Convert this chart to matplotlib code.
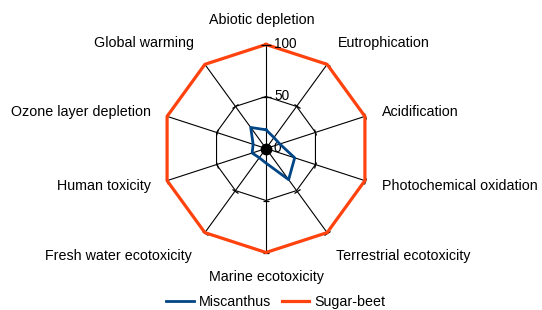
import numpy as np
import matplotlib
matplotlib.use("Agg")
import matplotlib.pyplot as plt
from matplotlib.markers import MarkerStyle
from matplotlib.transforms import Affine2D

categories = ["Abiotic depletion", "Eutrophication", "Acidification",
              "Photochemical oxidation", "Terrestrial ecotoxicity",
              "Marine ecotoxicity", "Fresh water ecotoxicity",
              "Human toxicity", "Ozone layer depletion", "Global warming"]
miscanthus = [18, 13, 14, 29, 37, 14, 11, 14, 13, 25]
sugar_beet = [100, 100, 100, 100, 100, 100, 100, 100, 100, 100]
radial_ticks = [0, 50, 100]
series_names = ["Miscanthus", "Sugar-beet"]

plt.rcParams['font.family'] = ['Liberation Sans', 'DejaVu Sans']
FS = 10.3

W, H = 542, 310
fig = plt.figure(figsize=(W / 100, H / 100), dpi=100)
cx, cy, R = 266, 148.5, 104
ax = fig.add_axes([(cx - R) / W, 1 - (cy + R) / H, 2 * R / W, 2 * R / H],
                  projection='polar')
ax.set_theta_zero_location('N')
ax.set_theta_direction(-1)
ax.set_ylim(0, 100)
ax.grid(False)
ax.set_xticks([])
ax.set_yticks([])
ax.spines['polar'].set_visible(False)
ax.patch.set_alpha(0)

n = len(categories)
theta = np.deg2rad(np.arange(n) * 360.0 / n)
tc = np.append(theta, theta[0])

# spokes
for t in theta:
    ax.plot([t, t], [0, radial_ticks[-1]], color='black', lw=0.8, zorder=1)
# grid polygons
for r in radial_ticks[1:]:
    ax.plot(tc, [r] * (n + 1), color='black', lw=0.8, zorder=1)
# small ticks at grid vertices
for i, t in enumerate(theta):
    m = MarkerStyle('_', transform=Affine2D().rotate_deg(-np.rad2deg(t)))
    ax.plot([t, t], radial_ticks[1:], ls='none', marker=m,
            ms=7 if i == 0 else 5, mew=0.9, color='black',
            zorder=6 if i == 0 else 1, clip_on=False)
# center blob
ax.plot([0], [0], marker='o', ms=7.5, color='black', zorder=5, clip_on=False)

ax.plot(tc, np.append(sugar_beet, sugar_beet[0]), color='#ff420e', lw=2.3,
        label=series_names[1], zorder=3, clip_on=False)
ax.plot(tc, np.append(miscanthus, miscanthus[0]), color='#004586', lw=2.0,
        label=series_names[0], zorder=4, clip_on=False)

# radial tick labels
for r in radial_ticks:
    ax.annotate(str(r), xy=(0, r), xytext=(8, 0), textcoords='offset pixels',
                ha='left', va='center', fontsize=FS - 0.5, annotation_clip=False)

# category labels
offsets = [(-4, 24.5, 'center'), (11, 21.5, 'left'), (17, 4, 'left'),
           (17, -5.5, 'left'), (9, -23.5, 'left'), (0, -24.5, 'center'),
           (-13, -23.5, 'right'), (-16.5, -5.5, 'right'), (-16.5, 4, 'right'),
           (-11, 21.5, 'right')]
for t, lab, (dx, dy, ha) in zip(theta, categories, offsets):
    ax.annotate(lab, xy=(t, 100), xytext=(dx, dy), textcoords='offset pixels',
                ha=ha, va='center', fontsize=FS, annotation_clip=False)

h, l = ax.get_legend_handles_labels()
order = [1, 0]
fig.legend([h[i] for i in order], [l[i] for i in order], loc='center',
           bbox_to_anchor=(276 / W, 1 - 302 / H), ncol=2, frameon=False,
           fontsize=FS, handlelength=1.9, handletextpad=0.4,
           columnspacing=0.7, borderpad=0, borderaxespad=0)

fig.savefig('out.png', dpi=100)
